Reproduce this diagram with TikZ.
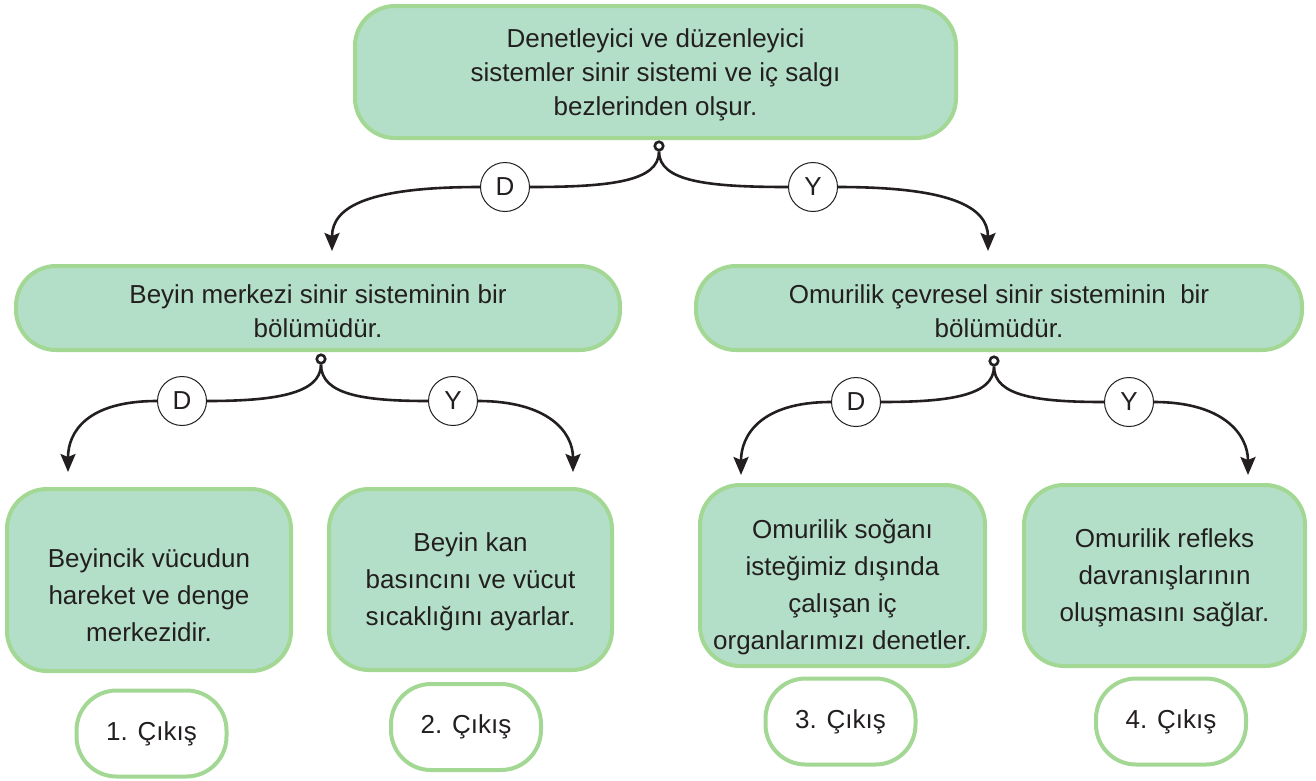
\documentclass[tikz,border=0pt]{standalone}
\usepackage{fontspec}
\setmainfont{Liberation Sans}
\usetikzlibrary{arrows.meta}
\definecolor{boxfill}{HTML}{B3DFC9}
\definecolor{boxline}{HTML}{A2D893}
\definecolor{ink}{HTML}{231F20}
\begin{document}
\begin{tikzpicture}[x=1pt,y=-1pt,
  box/.style={draw=boxline, fill=boxfill, line width=4pt, rounded corners=40pt, align=center, text=ink, inner sep=0pt, font=\fontsize{26}{34}\selectfont},
  btext/.style={align=center, text=ink, inner sep=0pt, font=\fontsize{26}{37}\selectfont},
  exitbox/.style={draw=boxline, fill=white, line width=4pt, rounded corners=40pt, text=ink, minimum width=150pt, minimum height=86pt, inner sep=0pt, font=\fontsize{26}{30}\selectfont},
  yn/.style={circle, draw=ink, line width=1pt, fill=white, minimum size=49pt, inner sep=0pt, text=ink, font=\fontsize{26}{30}\selectfont},
  knot/.style={circle, draw=ink, line width=2.6pt, fill=white, minimum size=8.5pt, inner sep=0pt},
  conn/.style={draw=ink, line width=2.6pt},
  arr/.style={conn, -{Stealth[length=18pt,width=15pt,inset=3pt]}},
]
\useasboundingbox (0,0) rectangle (1316,780);

% main boxes
\node[box, minimum width=601pt, minimum height=132pt] (top) at (655.5,72) {};
\node[box, draw=none, fill=none] (topt) at ([yshift=-3pt]top.center) {Denetleyici ve düzenleyici\\sistemler sinir sistemi ve iç salgı\\bezlerinden olşur.};
\node[box, minimum width=604pt, minimum height=84pt] (L) at (318,308) {};
\node[box, draw=none, fill=none] (Lt) at ([yshift=-3pt]L.center) {Beyin merkezi sinir sisteminin bir\\bölümüdür.};
\node[box, minimum width=606pt, minimum height=84pt] (R) at (999,308) {};
\node[box, draw=none, fill=none] (Rt) at ([yshift=-3pt]R.center) {Omurilik çevresel sinir sisteminin\ \ bir\\bölümüdür.};

\node[box, minimum width=284pt, minimum height=182pt] (B1) at (149,580) {};
\node[btext] (B1t) at ([yshift=-15pt]B1.center) {Beyincik vücudun\\hareket ve denge\\merkezidir.};
\node[box, minimum width=283pt, minimum height=181pt] (B2) at (470.5,579.5) {};
\node[btext] (B2t) at ([yshift=-2pt]B2.center) {Beyin kan\\basıncını ve vücut\\sıcaklığını ayarlar.};
\node[box, minimum width=285pt, minimum height=181pt] (B3) at (842.5,575.5) {};
\node[btext] (B3t) at ([yshift=-12pt]B3.center) {Omurilik soğanı\\isteğimiz dışında\\çalışan iç\\organlarımızı denetler.};
\node[box, minimum width=281pt, minimum height=181pt] (B4) at (1164.5,575.5) {};
\node[btext] (B4t) at ([yshift=-2pt]B4.center) {Omurilik refleks\\davranışlarının\\oluşmasını sağlar.};

% exits
\node[exitbox] (E1) at (151.5,733.5) {1. Çıkış};
\node[exitbox] (E2) at (466,727) {2. Çıkış};
\node[exitbox] (E3) at (840.5,721.5) {3. Çıkış};
\node[exitbox] (E4) at (1171,721.5) {4. Çıkış};

% knots
\node[knot] (c0) at (659,146) {};
\node[knot] (cL) at (321,359) {};
\node[knot] (cR) at (994,361) {};

% D / Y labels
\node[yn] (d0) at (505,187) {D};
\node[yn] (y0) at (813,187) {Y};
\node[yn] (dL) at (182,401) {D};
\node[yn] (yL) at (453,401) {Y};
\node[yn] (dR) at (856,402) {D};
\node[yn] (yR) at (1129,402) {Y};

% arrow tips
\coordinate (t0l) at (332,251);
\coordinate (t0r) at (988,251);
\coordinate (tLl) at (68,472);
\coordinate (tLr) at (573,472);
\coordinate (tRl) at (741,475);
\coordinate (tRr) at (1248,475);

% connectors
\draw[conn] (c0.south) .. controls +(0,30) and +(80,0) .. (d0.east);
\draw[arr] (d0.west) .. controls +(-110,0) and +(0,-45) .. (t0l);
\draw[conn] (c0.south) .. controls +(0,30) and +(-80,0) .. (y0.west);
\draw[arr] (y0.east) .. controls +(110,0) and +(0,-45) .. (t0r);

\draw[conn] (cL.south) .. controls +(0,30) and +(65,0) .. (dL.east);
\draw[arr] (dL.west) .. controls +(-70,0) and +(0,-40) .. (tLl);
\draw[conn] (cL.south) .. controls +(0,30) and +(-65,0) .. (yL.west);
\draw[arr] (yL.east) .. controls +(70,0) and +(0,-40) .. (tLr);

\draw[conn] (cR.south) .. controls +(0,30) and +(65,0) .. (dR.east);
\draw[arr] (dR.west) .. controls +(-70,0) and +(0,-40) .. (tRl);
\draw[conn] (cR.south) .. controls +(0,30) and +(-65,0) .. (yR.west);
\draw[arr] (yR.east) .. controls +(70,0) and +(0,-40) .. (tRr);
\end{tikzpicture}
\end{document}
